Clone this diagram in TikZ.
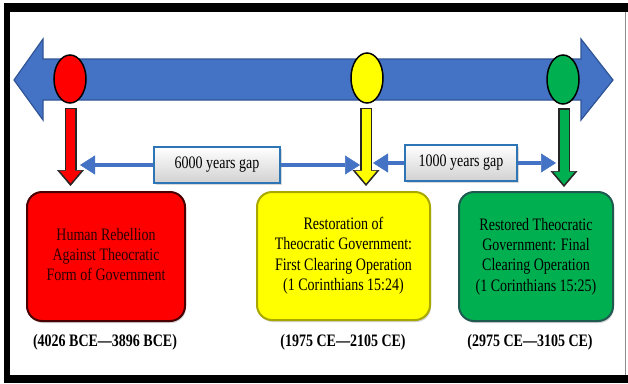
\documentclass[tikz,border=0pt]{standalone}
\usepackage{fontspec}
\setmainfont{Liberation Serif}
\usepackage{graphicx}
\usetikzlibrary{arrows.meta,shapes.geometric,shadows,calc}

\definecolor{tlblue}{HTML}{4472C4}
\definecolor{tlblueedge}{HTML}{2F5597}
\definecolor{tlred}{HTML}{FF0000}
\definecolor{tlrededge}{HTML}{4A0000}
\definecolor{tlredtext}{HTML}{2A0000}
\definecolor{tlyellow}{HTML}{FFFF00}
\definecolor{tlyellowedge}{HTML}{A8A800}
\definecolor{tlgreen}{HTML}{00B050}
\definecolor{tlgreenedge}{HTML}{1E5A50}
\definecolor{tlgapedge}{HTML}{2E75B6}

% squeezed lines, the way the original text is narrowed
\newcommand{\sqz}[1]{\scalebox{0.8}[1]{\begin{tabular}{@{}c@{}}#1\end{tabular}}}

\tikzset{
  timedot/.style={ellipse, draw=black, line width=1.5pt, fill=#1,
    minimum width=32pt, minimum height=48pt, inner sep=0pt},
  eventbox/.style={rectangle, rounded corners=15pt, line width=2pt,
    inner sep=0pt, font=\fontsize{17.5}{20.3}\selectfont,
    drop shadow={shadow xshift=1pt, shadow yshift=-2pt, opacity=.35}},
  gapbox/.style={rectangle, draw=tlgapedge, line width=1.2pt,
    top color=white, bottom color=black!18, inner sep=0pt,
    font=\fontsize{17.5}{19}\selectfont,
    drop shadow={shadow xshift=1.5pt, shadow yshift=-1.5pt, opacity=.3}},
  datelabel/.style={font=\fontsize{17.5}{19}\selectfont\bfseries, inner sep=0pt},
  gaparrow/.style={tlblue, line width=4.5pt,
    -{Triangle[length=15pt, width=19pt, line width=0.5pt]}},
  dropouter/.style={line width=12pt, draw=black!85,
    -{Triangle[length=16pt, width=27pt, line width=0.5pt]}},
  dropinner/.style={line width=9pt, draw=#1, shorten <=1.5pt, shorten >=2.6pt,
    -{Triangle[length=12.5pt, width=21pt, line width=0.5pt]}},
}

\begin{document}
\begin{tikzpicture}[x=1pt, y=-1pt]
  \useasboundingbox (0,0) rectangle (628,383);
  \fill[white] (0,0) rectangle (628,383);

  % frame
  \fill[black] (4,3) rectangle (628,383);
  \fill[white] (10,12) rectangle (628,375);
  \draw[black!45, line width=0.8pt] (625.5,12) -- (625.5,375);

  % time line
  \filldraw[fill=tlblue, draw=tlblueedge, line width=1.2pt, line join=miter]
    (14,80) -- (43,39) -- (43,59) -- (581,59) -- (581,39) -- (613,80)
    -- (581,120) -- (581,100) -- (43,100) -- (43,120) -- cycle;

  \node[timedot=tlred] (rdot) at (70,79) {};
  \node[timedot=tlyellow, minimum height=50pt] (ydot) at (367,78) {};
  \node[timedot=tlgreen, minimum height=49pt] (gdot) at (563,79.5) {};

  % events
  \node[eventbox, fill=tlred, draw=tlrededge, text=tlredtext,
    minimum width=158pt, minimum height=129pt] (rbox) at (106,256.5)
    {\sqz{Human Rebellion\\Against Theocratic\\Form of Government}};
  \node[eventbox, fill=tlyellow, draw=tlyellowedge, text=black,
    minimum width=173pt, minimum height=128pt] (ybox) at (343.5,256)
    {\sqz{Restoration of\\Theocratic Government:\\First Clearing Operation\\(1 Corinthians 15:24)}};
  \node[eventbox, fill=tlgreen, draw=tlgreenedge, text=black,
    minimum width=154pt, minimum height=129pt] (gbox) at (536,256.5)
    {\raisebox{9pt}{\sqz{Restored Theocratic\\Government: Final\\Clearing Operation\\(1 Corinthians 15:25)}}};

  \node[datelabel] (rdate) at (105,342) {\scalebox{0.8}[1]{(4026 BCE—3896 BCE)}};
  \node[datelabel] (ydate) at (343,342) {\scalebox{0.8}[1]{(1975 CE—2105 CE)}};
  \node[datelabel] (gdate) at (530,342) {\scalebox{0.8}[1]{(2975 CE—3105 CE)}};

  % drops from the time line
  \coordinate (rend) at ($(rdot.south |- rbox.north)+(0.5,-5)$);
  \coordinate (yend) at ($(ydot.south |- ybox.north)+(-1,-5)$);
  \coordinate (gend) at ($(gdot.south |- gbox.north)+(1,-4)$);
  \begin{scope}
    \draw[dropouter] ($(rdot.south)+(0.5,4)$) -- (rend);
    \draw[dropinner=tlred] ($(rdot.south)+(0.5,4)$) -- (rend);
    \draw[dropouter] ($(ydot.south)+(-1,4)$) -- (yend);
    \draw[dropinner=tlyellow] ($(ydot.south)+(-1,4)$) -- (yend);
    \draw[dropouter] ($(gdot.south)+(1,3.5)$) -- (gend);
    \draw[dropinner=tlgreen] ($(gdot.south)+(1,3.5)$) -- (gend);
  \end{scope}

  % gaps
  \coordinate (sixleft) at (80,165);
  \coordinate (sixright) at (360,165);
  \coordinate (oneleft) at (373,163);
  \coordinate (oneright) at (556,163);
  \node[gapbox, minimum width=126pt, minimum height=36pt] (sixgap) at (217,165)
    {\scalebox{0.8}[1]{6000 years gap}};
  \node[gapbox, minimum width=112pt, minimum height=36pt] (onegap) at (461,163)
    {\scalebox{0.8}[1]{1000 years gap}};
  \draw[gaparrow] (sixgap.west) -- (sixleft);
  \draw[gaparrow] (sixgap.east) -- (sixright);
  \draw[gaparrow] (onegap.west) -- (oneleft);
  \draw[gaparrow] (onegap.east) -- (oneright);
\end{tikzpicture}
\end{document}
